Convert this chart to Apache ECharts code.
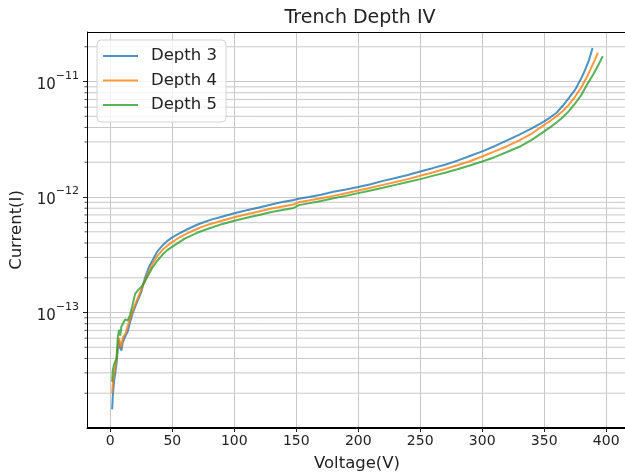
<!DOCTYPE html>
<html><head><meta charset="utf-8">
<script src="https://cdn.jsdelivr.net/npm/echarts@6/dist/echarts.min.js"></script>
<style>html,body{margin:0;padding:0;background:#fff;overflow:hidden}#c{width:625px;height:473px}</style>
</head><body><div id="c"></div>
<script>
const titleText = 'Trench Depth IV';
const xName = 'Voltage(V)';
const yName = 'Current(I)';
const seriesNames = ['Depth 3', 'Depth 4', 'Depth 5'];
const xTicks = [0, 50, 100, 150, 200, 250, 300, 350, 400];
const yDecades = [1e-14, 1e-13, 1e-12, 1e-11];

const voltage3 = [1.5,2,3,4,5,6,7,8,9,10,12,14,16,18,20,22,25,28,31,34,38,42,46,50,55,60,70,80,90,100,110,120,130,140,148,152,160,170,180,190,200,210,220,230,240,250,260,270,280,290,300,310,320,330,340,350,355,360,365,370,375,380,383,386,389];
const current3 = [1.45e-14,1.9e-14,2.5e-14,3.0e-14,3.6e-14,4.7e-14,5.75e-14,4.9e-14,4.7e-14,5.5e-14,6.2e-14,6.8e-14,8.3e-14,9.8e-14,1.12e-13,1.26e-13,1.51e-13,2.0e-13,2.45e-13,2.82e-13,3.39e-13,3.8e-13,4.17e-13,4.47e-13,4.79e-13,5.13e-13,5.75e-13,6.31e-13,6.76e-13,7.24e-13,7.67e-13,8.13e-13,8.61e-13,9.12e-13,9.44e-13,9.66e-13,1.0e-12,1.047e-12,1.109e-12,1.161e-12,1.219e-12,1.288e-12,1.38e-12,1.462e-12,1.549e-12,1.663e-12,1.778e-12,1.905e-12,2.065e-12,2.265e-12,2.483e-12,2.754e-12,3.09e-12,3.467e-12,3.936e-12,4.519e-12,4.9e-12,5.37e-12,6.17e-12,7.21e-12,8.51e-12,1.074e-11,1.259e-11,1.514e-11,1.954e-11];

const voltage4 = [1.5,2,3,4,5,6,7,8,9,10,12,14,16,18,20,22,25,28,31,34,38,42,46,50,55,60,70,80,90,100,110,120,130,140,148,152,160,170,180,190,200,210,220,230,240,250,260,270,280,290,300,310,320,330,340,350,355,360,365,370,375,380,385,388,391,393.2];
const current4 = [2.0e-14,2.4e-14,3.0e-14,3.39e-14,3.98e-14,5.01e-14,6.03e-14,5.37e-14,5.01e-14,6.03e-14,6.46e-14,7.59e-14,8.91e-14,1.02e-13,1.17e-13,1.32e-13,1.58e-13,1.91e-13,2.24e-13,2.63e-13,3.09e-13,3.47e-13,3.8e-13,4.07e-13,4.42e-13,4.73e-13,5.31e-13,5.82e-13,6.24e-13,6.68e-13,7.08e-13,7.5e-13,7.94e-13,8.32e-13,8.61e-13,9.02e-13,9.33e-13,9.77e-13,1.023e-12,1.079e-12,1.138e-12,1.202e-12,1.274e-12,1.349e-12,1.429e-12,1.528e-12,1.633e-12,1.75e-12,1.884e-12,2.042e-12,2.244e-12,2.483e-12,2.754e-12,3.09e-12,3.548e-12,4.217e-12,4.571e-12,5.012e-12,5.559e-12,6.31e-12,7.413e-12,8.913e-12,1.122e-11,1.318e-11,1.549e-11,1.77e-11];

const voltage5 = [1.5,2,3,4,5,6,7,8,9,10,12,14,16,18,20,22,25,28,31,34,38,42,46,50,55,60,70,80,90,100,110,120,130,140,148,152,160,170,180,190,200,210,220,230,240,250,260,270,280,290,300,310,320,330,340,350,355,360,365,370,375,380,385,390,394,397.2];
const current5 = [2.51e-14,3.16e-14,3.55e-14,3.55e-14,3.98e-14,6.03e-14,7.08e-14,6.31e-14,7.59e-14,7.94e-14,8.71e-14,8.51e-14,9.55e-14,1.17e-13,1.45e-13,1.55e-13,1.66e-13,1.86e-13,2.14e-13,2.45e-13,2.82e-13,3.16e-13,3.47e-13,3.72e-13,4.03e-13,4.37e-13,4.9e-13,5.37e-13,5.82e-13,6.24e-13,6.61e-13,7.0e-13,7.41e-13,7.76e-13,8.04e-13,8.51e-13,8.81e-13,9.23e-13,9.77e-13,1.023e-12,1.081e-12,1.14e-12,1.202e-12,1.274e-12,1.349e-12,1.429e-12,1.524e-12,1.622e-12,1.738e-12,1.875e-12,2.032e-12,2.213e-12,2.455e-12,2.723e-12,3.126e-12,3.698e-12,4.027e-12,4.416e-12,4.898e-12,5.559e-12,6.457e-12,7.674e-12,9.55e-12,1.175e-11,1.413e-11,1.656e-11];

const colors = ['#1f77b4', '#ff7f0e', '#2ca02c'];
const X_MIN = -18.8, X_MAX = 416.8;
const Y_MIN = 1e-14, Y_MAX = 2.685e-11;
const FONT = 'DejaVu Sans';

// minor log gridline positions (2..9 x each decade)
const minorVals = [];
yDecades.forEach(d => { for (let k = 2; k <= 9; k++) { const v = k * d; if (v < Y_MAX) minorVals.push([0, v]); } });

const pairs = (xs, ys) => xs.map((x, i) => [x, ys[i]]);
const lineData = [pairs(voltage3, current3), pairs(voltage4, current4), pairs(voltage5, current5)];

const chart = echarts.init(document.getElementById('c'), null, {renderer: 'canvas'});
chart.setOption({
  animation: false,
  backgroundColor: '#fff',
  title: {
    text: titleText, left: 355, top: 4, textAlign: 'center',
    textStyle: {fontFamily: FONT, fontSize: 19, fontWeight: 'normal', color: '#222'}
  },
  legend: {
    data: seriesNames, orient: 'vertical', left: 97, top: 40, z: 10,
    padding: [7.5, 9, 8.5, 6], itemGap: 7.5, itemWidth: 35, itemHeight: 2, icon: 'rect',
    backgroundColor: 'rgba(255,255,255,0.8)', borderColor: '#d4d4d4', borderWidth: 1, borderRadius: 4,
    itemStyle: {opacity: 0.8},
    textStyle: {fontFamily: FONT, fontSize: 16.5, color: '#222', lineHeight: 17, padding: [0, 0, 0, 8]}
  },
  grid: {left: 87, top: 32, width: 540, height: 396, outerBoundsMode: 'none', containLabel: false, show: false},
  xAxis: {
    type: 'value', min: X_MIN, max: X_MAX,
    name: xName, nameLocation: 'middle', nameGap: 27,
    nameTextStyle: {fontFamily: FONT, fontSize: 16.5, color: '#222'},
    axisLine: {show: true, onZero: false, lineStyle: {color: '#000', width: 1}},
    axisTick: {show: true, length: 4, customValues: xTicks, lineStyle: {color: '#222'}},
    axisLabel: {customValues: xTicks, margin: 6, fontFamily: FONT, fontSize: 14, color: '#222'},
    splitLine: {show: true, lineStyle: {color: '#c8c8c8', width: 1}}
  },
  yAxis: {
    type: 'log', logBase: 10, min: Y_MIN, max: Y_MAX,
    name: yName, nameLocation: 'middle', nameGap: 62,
    nameTextStyle: {fontFamily: FONT, fontSize: 16.5, color: '#222'},
    axisLine: {show: true, onZero: false, lineStyle: {color: '#000', width: 1}},
    axisTick: {show: true, length: 4, lineStyle: {color: '#222'}},
    axisLabel: {
      showMinLabel: false, showMaxLabel: false, margin: 8,
      formatter: v => { const e = Math.round(Math.log10(v)); return '{b|10}{s|' + String(e).replace('-', '\u2212') + '}'; },
      rich: {
        b: {fontFamily: FONT, fontSize: 15, color: '#222', verticalAlign: 'bottom', lineHeight: 22},
        s: {fontFamily: FONT, fontSize: 11, color: '#222', verticalAlign: 'top', lineHeight: 22}
      }
    },
    splitLine: {show: true, lineStyle: {color: '#c8c8c8', width: 1}}
  },
  series: [
    {
      type: 'custom', name: 'minorgrid', silent: true, z: 1,
      data: minorVals, encode: {x: 0, y: 1},
      renderItem: function (params, api) {
        const y = api.value(1);
        const p0 = api.coord([X_MIN, y]);
        const p1 = api.coord([X_MAX, y]);
        return {type: 'group', children: [
          {type: 'line', shape: {x1: p0[0], y1: p0[1], x2: p1[0], y2: p1[1]}, style: {stroke: '#c8c8c8', lineWidth: 1}},
          {type: 'line', shape: {x1: p0[0] - 2.5, y1: p0[1], x2: p0[0], y2: p0[1]}, style: {stroke: '#222', lineWidth: 0.8}}
        ]};
      }
    },
    {
      type: 'custom', name: 'frame', silent: true, z: 4,
      data: [[X_MIN, Y_MIN]], encode: {x: 0, y: 1},
      renderItem: function (params, api) {
        const bl = api.coord([X_MIN, Y_MIN]);
        const tr = api.coord([X_MAX, Y_MAX]);
        const xl = Math.round(bl[0]) + 0.5, yb = Math.round(bl[1]) - 0.5, yt = Math.round(tr[1]) + 0.5;
        const sp = {stroke: '#000', lineWidth: 1, fill: null};
        return {type: 'group', children: [
          {type: 'line', shape: {x1: xl, y1: yt, x2: xl, y2: yb}, style: sp},
          {type: 'line', shape: {x1: xl, y1: yb, x2: tr[0], y2: yb}, style: sp},
          {type: 'line', shape: {x1: xl, y1: yt, x2: tr[0], y2: yt}, style: sp}
        ]};
      }
    }
  ].concat(seriesNames.map((n, i) => ({
    type: 'line', name: n, data: lineData[i], showSymbol: false, symbol: 'none', z: 3,
    itemStyle: {color: colors[i]},
    lineStyle: {color: colors[i], width: 2, opacity: 0.8}
  })))
});
</script></body></html>
